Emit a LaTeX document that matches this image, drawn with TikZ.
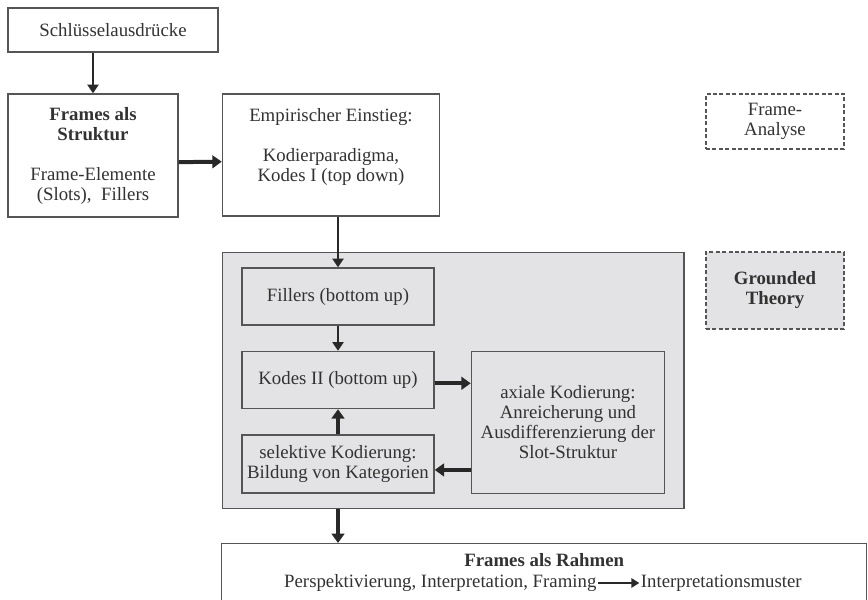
\documentclass[tikz,border=0pt]{standalone}
\usepackage{fontspec}
\setmainfont{Liberation Serif}
\usetikzlibrary{arrows.meta, positioning, fit, backgrounds, calc}

\definecolor{textgray}{RGB}{50,50,50}
\definecolor{framegray}{RGB}{85,85,85}
\definecolor{arrowgray}{RGB}{40,40,40}
\definecolor{boxfill}{RGB}{227,227,229}

\begin{document}
\begin{tikzpicture}[
        x=0.75pt, y=-0.75pt,
        font=\fontsize{14.1}{15}\selectfont,
        % Global Styles
        box/.style={rectangle, draw=framegray, line width=1.1pt, fill=white, text=textgray, align=center, inner sep=2pt},
        smallbox/.style={box, minimum width=144pt, minimum height=42.75pt},
        dashbox/.style={box, dash pattern=on 3pt off 1.8pt, minimum width=103.5pt},
        container/.style={draw=framegray, line width=1.1pt, fill=boxfill, inner xsep=14.25pt, inner ysep=10.9pt},
        plain/.style={inner sep=1pt, text=textgray},
        line/.style={draw=arrowgray, line width=1.1pt, -{Triangle[length=6.5pt, width=8.5pt]}}, % thin arrow
        fatline/.style={draw=arrowgray, line width=3pt, -{Triangle[length=7pt, width=9.5pt]}} % thick arrow
    ]

    \useasboundingbox (0,0) rectangle (868,600);
    \clip (0,0) rectangle (868,600);

    % --- Nodes ---

    % 1. Upper row
    \node [box, minimum width=157.5pt, minimum height=33pt] (schl) at (113,30) {Schlüsselausdrücke};
    \node [box, minimum width=127.5pt, minimum height=92.25pt] (struktur) at (93,155.5)
        {\textbf{Frames als}\\\textbf{Struktur}\\[15pt]Frame-Elemente\\(Slots),\ \ Fillers};
    \node [box, minimum width=162.75pt, minimum height=91.5pt, below right=0pt and 32.25pt of struktur.north east] (einstieg)
        {Empirischer Einstieg:\\[15pt]Kodierparadigma,\\Kodes I (top down)\\\mbox{}};

    % 2. Grounded Theory block
    \node [smallbox, fill=boxfill] (fillers) at (338,296.5) {Fillers (bottom up)};
    \node [smallbox, fill=boxfill, below=18.75pt of fillers] (kodes) {Kodes II (bottom up)};
    \node [smallbox, fill=boxfill, minimum height=43.5pt, below=18.75pt of kodes] (selektiv)
        {selektive Kodierung:\\Bildung von Kategorien};
    \node [box, fill=boxfill, minimum width=144.75pt, minimum height=106.5pt, below right=0pt and 27pt of kodes.north east] (axial)
        {axiale Kodierung:\\Anreicherung und\\Ausdifferenzierung der\\Slot-Struktur};

    % 3. Side labels
    \node [dashbox, minimum height=41.25pt] (frameana) at (775,121.5) {Frame-\\Analyse};
    \node [dashbox, fill=boxfill, minimum height=57.75pt] (grounded) at (775,290.5) {\textbf{Grounded}\\\textbf{Theory}};

    % 4. Bottom frame
    \node [box, anchor=north west, minimum width=483.75pt, minimum height=75pt] (rahmen) at (221,543) {};
    \node [plain, below=7pt of rahmen.north] (rahmentitel) {\textbf{Frames als Rahmen}};
    \node [plain, anchor=east] (perspektiv) at (598,583) {Perspektivierung, Interpretation, Framing};
    \node [plain, right=31pt of perspektiv] (muster) {Interpretationsmuster};

    % --- Paths ---
    \draw [line] (struktur.north |- schl.south) -- (struktur.north);
    \draw [fatline] ([yshift=-5pt]struktur.east) -- ([yshift=-5pt]einstieg.west);
    \draw [line] (fillers.north |- einstieg.south) -- (fillers.north);
    \draw [line] (fillers) -- (kodes);
    \draw [fatline] (selektiv) -- (kodes);
    \draw [fatline] ([yshift=-2.5pt]kodes.east) -- ([yshift=-2.5pt]kodes.east -| axial.west);
    \draw [fatline] ([yshift=-4.5pt]selektiv.east -| axial.west) -- ([yshift=-4.5pt]selektiv.east);
    \draw [draw=arrowgray, line width=1.6pt, -{Triangle[length=6pt, width=7pt]}] (perspektiv) -- (muster);

    % Background Box for Grounded Theory steps
    \begin{scope}[on background layer]
        \node [container, fit=(fillers) (kodes) (selektiv) (axial)] (gtbox) {};
    \end{scope}
    \draw [fatline] (gtbox.south -| fillers) -- (rahmen.north -| fillers);

\end{tikzpicture}
\end{document}
